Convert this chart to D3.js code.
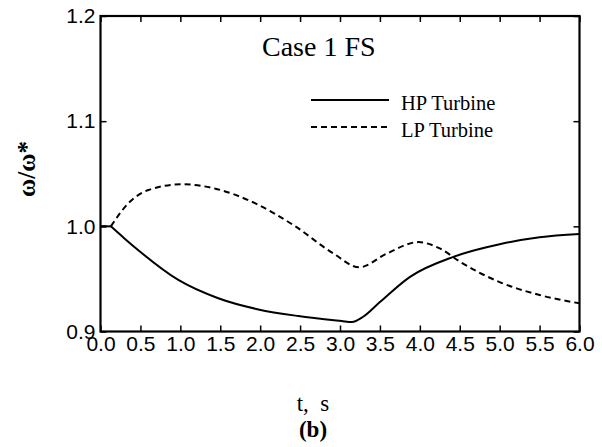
<!DOCTYPE html>
<html>
<head>
<meta charset="utf-8">
<script src="https://cdn.jsdelivr.net/npm/d3@7"></script>
<style>
  body { margin: 0; background: #fff; }
  svg { display: block; }
</style>
</head>
<body>
<svg id="chart" width="602" height="447"></svg>
<script>
// values
const hpT = [0, 0.13, 0.3, 0.47, 0.975, 1.475, 1.977, 2.478, 3.02, 3.15, 3.29, 3.5, 3.877, 4.42, 5.0, 5.5, 6.0];
const hpW = [1.0, 1.0, 0.9885, 0.9775, 0.949, 0.9316, 0.921, 0.9147, 0.910, 0.909, 0.914, 0.928, 0.952, 0.971, 0.983, 0.9896, 0.9927];

const lpT = [0, 0.13, 0.35, 0.6, 1.02, 1.43, 1.935, 2.44, 2.92, 3.24, 3.585, 3.98, 4.25, 4.5, 5.0, 5.5, 6.0];
const lpW = [1.0, 1.0, 1.022, 1.0345, 1.040, 1.036, 1.022, 1.0, 0.974, 0.961, 0.974, 0.985, 0.979, 0.9665, 0.947, 0.9347, 0.9268];

const xTicks = [0, 0.5, 1, 1.5, 2, 2.5, 3, 3.5, 4, 4.5, 5, 5.5, 6];
const yTicks = [0.9, 1.0, 1.1, 1.2];

const svg = d3.select("#chart");
const plotL = 100.5, plotR = 579.5, plotT = 16, plotB = 331.5;

const x = d3.scaleLinear().domain([0, 6]).range([plotL, plotR]);
const y = d3.scaleLinear().domain([0.9, 1.2]).range([plotB, plotT]);

const sans = "'Liberation Sans', Arial, sans-serif";
const serif = "'Liberation Serif', 'Times New Roman', serif";

// axes with inward ticks on all four sides
function styleAxis(g) {
    g.select(".domain").remove();
    g.selectAll(".tick line").attr("stroke", "#000").attr("stroke-width", 1.5);
    g.selectAll("text").attr("font-family", sans).attr("font-size", 21).attr("fill", "#000");
}

svg.append("g")
    .attr("transform", `translate(0,${plotB})`)
    .call(d3.axisBottom(x).tickValues(xTicks).tickFormat(d3.format(".1f")).tickSizeInner(-6).tickSizeOuter(0).tickPadding(5))
    .call(styleAxis);

svg.append("g")
    .attr("transform", `translate(0,${plotT})`)
    .call(d3.axisTop(x).tickValues(xTicks).tickFormat("").tickSizeInner(-6).tickSizeOuter(0))
    .call(styleAxis);

svg.append("g")
    .attr("transform", `translate(${plotL},0)`)
    .call(d3.axisLeft(y).tickValues(yTicks).tickFormat(d3.format(".1f")).tickSizeInner(-6).tickSizeOuter(0).tickPadding(5))
    .call(styleAxis);

svg.append("g")
    .attr("transform", `translate(${plotR},0)`)
    .call(d3.axisRight(y).tickValues(yTicks).tickFormat("").tickSizeInner(-6).tickSizeOuter(0))
    .call(styleAxis);

svg.append("rect")
    .attr("x", plotL).attr("y", plotT)
    .attr("width", plotR - plotL).attr("height", plotB - plotT)
    .attr("fill", "none").attr("stroke", "#000").attr("stroke-width", 2.2);

// curves: flat start drawn straight, the rest smoothed
const line = d3.line()
    .x(d => x(d[0]))
    .y(d => y(d[1]))
    .curve(d3.curveMonotoneX);

function drawSeries(ts, ws, dash) {
    const pts = ts.map((t, i) => [t, ws[i]]);
    const g = svg.append("g")
        .attr("fill", "none").attr("stroke", "#000").attr("stroke-width", 2)
        .attr("stroke-dasharray", dash);
    g.append("path").attr("d", d3.line().x(d => x(d[0])).y(d => y(d[1]))(pts.slice(0, 2)));
    g.append("path").attr("d", line(pts.slice(1)));
}

drawSeries(lpT, lpW, "6,4");
drawSeries(hpT, hpW, null);

// annotation + legend
svg.append("text")
    .attr("x", 262).attr("y", 56)
    .attr("font-family", serif).attr("font-size", 28)
    .text("Case 1 FS");

const legend = [
    { label: "HP Turbine", dash: null },
    { label: "LP Turbine", dash: "6,4" }
];
legend.forEach((d, i) => {
    const ly = 100 + i * 27;
    svg.append("line")
        .attr("x1", 311).attr("x2", 389).attr("y1", ly).attr("y2", ly)
        .attr("stroke", "#000").attr("stroke-width", 2)
        .attr("stroke-dasharray", d.dash);
    svg.append("text")
        .attr("x", 401).attr("y", ly + 10)
        .attr("font-family", serif).attr("font-size", 20.5)
        .text(d.label);
});

// axis titles
svg.append("text")
    .attr("transform", "translate(35,169) rotate(-90)")
    .attr("text-anchor", "middle")
    .attr("font-family", serif).attr("font-size", 25).attr("font-weight", "bold")
    .text("ω/ω*");

svg.append("text")
    .attr("x", 313).attr("y", 411)
    .attr("text-anchor", "middle")
    .attr("font-family", serif).attr("font-size", 23)
    .attr("xml:space", "preserve").style("white-space", "pre")
    .text("t,  s");

svg.append("text")
    .attr("x", 313).attr("y", 437)
    .attr("text-anchor", "middle")
    .attr("font-family", serif).attr("font-size", 23).attr("font-weight", "bold")
    .text("(b)");
</script>
</body>
</html>
